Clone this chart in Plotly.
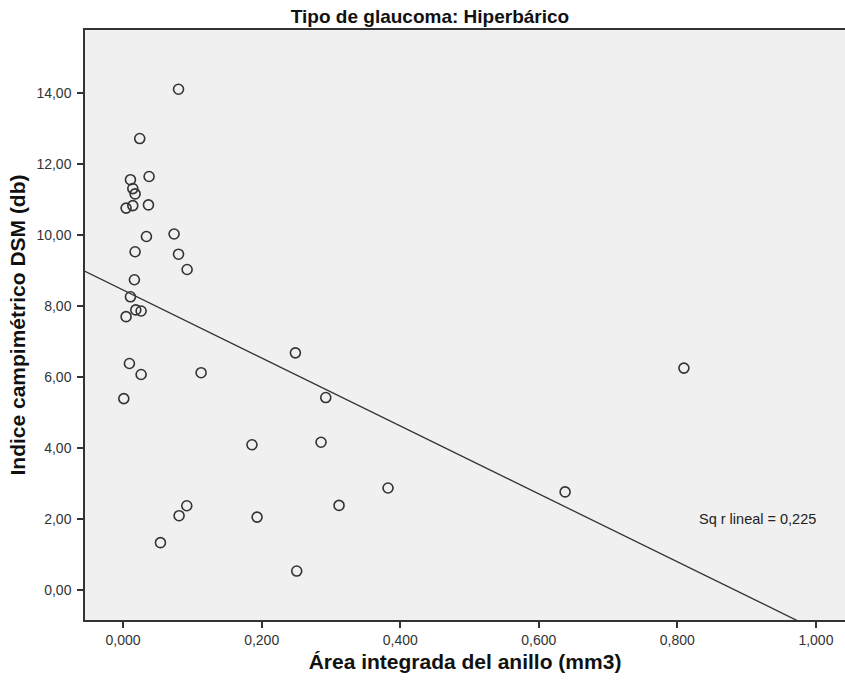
import numpy as np
import plotly.graph_objects as go

area = [0.080, 0.024, 0.0106, 0.0375, 0.014, 0.0173, 0.0043, 0.014, 0.0366,
        0.0337, 0.0736, 0.0173, 0.080, 0.0924, 0.0163, 0.0106, 0.0183, 0.026,
        0.0043, 0.0091, 0.026, 0.1126,
        0.001, 0.0919, 0.0808, 0.0539,
        0.2487, 0.2925, 0.186, 0.2857, 0.3824, 0.3117, 0.1934, 0.2506,
        0.638, 0.8095]
dsm = [14.11, 12.72, 11.56, 11.65, 11.31, 11.16, 10.76, 10.83, 10.85,
       9.96, 10.03, 9.53, 9.46, 9.03, 8.74, 8.26, 7.89, 7.86,
       7.70, 6.38, 6.07, 6.12,
       5.39, 2.37, 2.09, 1.33,
       6.68, 5.42, 4.09, 4.16, 2.87, 2.38, 2.05, 0.53,
       2.76, 6.25]

x_ticks = [0.0, 0.2, 0.4, 0.6, 0.8, 1.0]
y_ticks = [0, 2, 4, 6, 8, 10, 12, 14]
x_range = [-0.055, 1.042]
y_range = [-0.85, 15.78]

slope, intercept = np.polyfit(area, dsm, 1)
fit_x = np.array(x_range)
fit_y = intercept + slope * fit_x

ink = "#333333"
sans = "Liberation Sans, Arial, sans-serif"
fig = go.Figure()
fig.add_trace(go.Scatter(
    x=fit_x, y=fit_y, mode="lines",
    line=dict(color=ink, width=1.3), hoverinfo="skip", showlegend=False))
fig.add_trace(go.Scatter(
    x=area, y=dsm, mode="markers",
    marker=dict(symbol="circle-open", size=10, color=ink, line=dict(width=1.6, color=ink)),
    showlegend=False))

fig.add_annotation(
    x=0.828, y=2.0, xref="x", yref="y", xanchor="left", yanchor="middle",
    text="Sq r lineal = 0,225", showarrow=False,
    font=dict(family=sans, size=14.5, color="#222"))

fig.update_layout(
    width=845, height=684,
    margin=dict(l=85, r=0, t=30, b=64),
    paper_bgcolor="white", plot_bgcolor="#F0F0F0",
    separators=",.",
    title=dict(text="<b>Tipo de glaucoma: Hiperbárico</b>", x=430 / 845, xanchor="center",
               y=1 - 16 / 684, yanchor="middle",
               font=dict(family=sans, size=19, color="#111")),
    xaxis=dict(range=x_range, tickvals=x_ticks, tickformat=".3f",
               showgrid=False, zeroline=False, showline=True, linecolor=ink, linewidth=1.5,
               mirror=True, ticks="outside", ticklen=6, tickcolor=ink, tickwidth=1.5,
               tickfont=dict(family=sans, size=14, color="#333"),
               title=dict(text="<b>Área integrada del anillo (mm3)</b>", standoff=8,
                          font=dict(family=sans, size=21, color="#111"))),
    yaxis=dict(range=y_range, tickvals=y_ticks, tickformat=".2f",
               showgrid=False, zeroline=False, showline=True, linecolor=ink, linewidth=1.5,
               ticks="outside", ticklen=6, tickcolor=ink, tickwidth=1.5, ticklabelstandoff=3,
               tickfont=dict(family=sans, size=14, color="#333"),
               title=dict(text="<b>Indice campimétrico DSM (db)</b>", standoff=5,
                          font=dict(family=sans, size=21, color="#111"))),
)

fig.write_html("out.html")
